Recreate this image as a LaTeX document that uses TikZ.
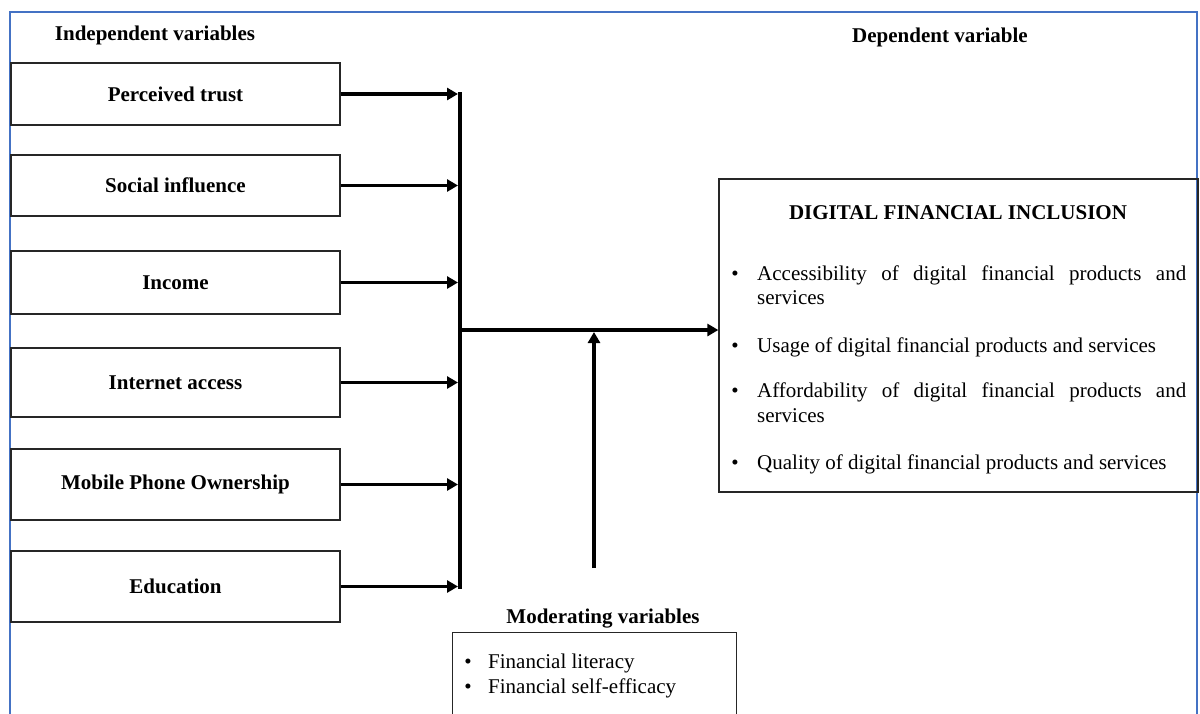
\documentclass[tikz,border=0pt]{standalone}
\usepackage{fontspec}
\setmainfont{Liberation Serif}
\usetikzlibrary{arrows.meta}
\definecolor{frameblue}{RGB}{68,114,196}
\begin{document}
\begin{tikzpicture}[x=1pt,y=-1pt,
  txt/.style={inner sep=0pt, font=\fontsize{21}{25}\selectfont},
  btxt/.style={inner sep=0pt, font=\fontsize{21}{25}\selectfont\bfseries},
  varbox/.style={draw=black!85, line width=1.3pt, minimum width=329pt, inner sep=0pt, font=\fontsize{21}{25}\selectfont\bfseries},
  outbox/.style={draw=black!85, line width=1.3pt, inner sep=0pt},
  flow/.style={line width=3.8pt, -{Triangle[length=11pt,width=12pt]}},
]
\useasboundingbox (0,0) rectangle (1200,713);
\clip (0,0) rectangle (1200,713);
\fill[white] (0,0) rectangle (1200,713);
% frame
\draw[frameblue, line width=1.5pt] (10,730) -- (10,12) -- (1197,12) -- (1197,730);
% headers
\node[btxt, anchor=base] (indep) at (155,40) {Independent variables};
\node[btxt, anchor=base] (dep) at (940,42) {Dependent variable};
% left boxes
\node[varbox, minimum height=62pt] (b1) at (175.5,94) {Perceived trust};
\node[varbox, minimum height=61pt] (b2) at (175.5,185.5) {Social influence};
\node[varbox, minimum height=63pt] (b3) at (175.5,282.5) {Income};
\node[varbox, minimum height=69pt] (b4) at (175.5,382.5) {Internet access};
\node[varbox, minimum height=71pt] (b5) at (175.5,484.5) {Mobile Phone Ownership};
\node[varbox, minimum height=71pt] (b6) at (175.5,586.5) {Education};
% bar
\coordinate (bartop) at (460,92);
\coordinate (barbot) at (460,589);
\draw[line width=4pt] (bartop) -- (barbot);
\foreach \b in {b1,b2,b3,b4,b5,b6}{
  \draw[flow, shorten >=2pt] (\b.east) -- (\b.east -| bartop);
}
% dependent box
\node[outbox, minimum width=479pt, minimum height=313pt] (dfi) at (958.5,335.5) {};
\node[btxt, anchor=base] (dfititle) at (958,219) {DIGITAL FINANCIAL INCLUSION};
\node[txt, anchor=base] (u1) at (735,280) {\textbullet};
\node[txt, anchor=base west] (i1a) at (757,280) {\makebox[429pt][s]{Accessibility of digital financial products and}};
\node[txt, anchor=base west] (i1b) at (757,304) {services};
\node[txt, anchor=base] (u2) at (735,352) {\textbullet};
\node[txt, anchor=base west] (i2) at (757,352) {Usage of digital financial products and services};
\node[txt, anchor=base] (u3) at (735,397) {\textbullet};
\node[txt, anchor=base west] (i3a) at (757,397) {\makebox[429pt][s]{Affordability of digital financial products and}};
\node[txt, anchor=base west] (i3b) at (757,422) {services};
\node[txt, anchor=base] (u4) at (735,469) {\textbullet};
\node[txt, anchor=base west] (i4) at (757,469) {Quality of digital financial products and services};
% main arrow
\coordinate (junc) at (460,330);
\draw[flow] (junc) -- (junc -| dfi.west);
% moderating
\node[btxt, anchor=base] (modlabel) at (603,623) {Moderating variables};
\node[outbox, anchor=north west, minimum width=284pt, minimum height=120pt] (mod) at (452,632) {};
\node[txt, anchor=base] (m1u) at (468,668) {\textbullet};
\node[txt, anchor=base west] (m1) at (488,668) {Financial literacy};
\node[txt, anchor=base] (m2u) at (468,693) {\textbullet};
\node[txt, anchor=base west] (m2) at (488,693) {Financial self-efficacy};
\coordinate (modtop) at (594,568);
\draw[flow, shorten >=2pt] (modtop) -- (modtop |- junc);
\end{tikzpicture}
\end{document}
